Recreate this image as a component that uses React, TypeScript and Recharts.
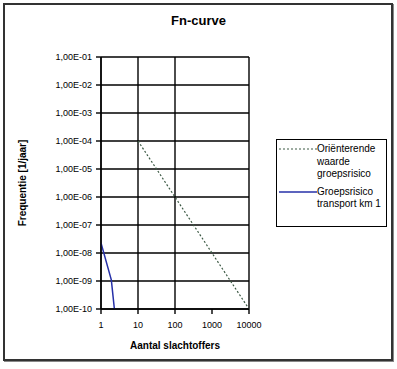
import React from "react";
import { LineChart, Line, XAxis, YAxis, CartesianGrid } from "recharts";

// Fn-curve: log-log plot, guide value vs. group risk for transport km 1.
const N_TICKS = [1, 10, 100, 1000, 10000];
const F_TICKS = [1e-10, 1e-9, 1e-8, 1e-7, 1e-6, 1e-5, 1e-4, 1e-3, 1e-2, 1e-1];

const GUIDE_N = [10, 100, 1000, 10000];
const GUIDE_F = [1e-4, 1e-6, 1e-8, 1e-10];

const RISK_N = [1, 1.9, 2.3];
const RISK_F = [2.3e-8, 1.1e-9, 1e-10];

const GUIDE_LABEL = ["Oriënterende", "waarde", "groepsrisico"];
const RISK_LABEL = ["Groepsrisico", "transport km 1"];

const guideData = GUIDE_N.map((n, i) => ({ n, f: GUIDE_F[i] }));
const riskData = RISK_N.map((n, i) => ({ n, f: RISK_F[i] }));

const FONT = "'Liberation Sans', Arial, sans-serif";
const GUIDE_COLOR = "#3d5a45";
const RISK_COLOR = "#2630a8";

const fmtF = (v: number) =>
  "1,00E-" + String(-Math.round(Math.log10(v))).padStart(2, "0");

function LegendItem({ lines, color, dashed }: { lines: string[]; color: string; dashed?: boolean }) {
  return (
    <div style={{ display: "flex", marginBottom: 5 }}>
      <svg width={38} height={12} style={{ flex: "none" }}>
        <line
          x1={0}
          y1={6}
          x2={38}
          y2={6}
          stroke={color}
          strokeWidth={dashed ? 1.2 : 1.5}
          strokeDasharray={dashed ? "2 2" : undefined}
        />
      </svg>
      <div style={{ lineHeight: "12.5px" }}>
        {lines.map((t) => (
          <div key={t}>{t}</div>
        ))}
      </div>
    </div>
  );
}

export default function App() {
  return (
    <div
      style={{
        position: "fixed",
        left: 0,
        top: 0,
        width: 397,
        height: 369,
        background: "#fff",
        fontFamily: FONT,
      }}
    >
      <div
        style={{
          position: "absolute",
          left: 3,
          top: 3,
          width: 386,
          height: 354,
          border: "2px solid #333",
          boxShadow: "1px 1px 0 #888",
        }}
      />
      <div
        style={{
          position: "absolute",
          left: 0,
          width: 397,
          top: 13,
          textAlign: "center",
          fontSize: 13,
          fontWeight: "bold",
        }}
      >
        Fn-curve
      </div>
      <LineChart
        width={397}
        height={369}
        margin={{ top: 57, right: 148, bottom: 0, left: 0 }}
        style={{ position: "absolute", left: 0, top: 0 }}
      >
        <CartesianGrid stroke="#000" strokeWidth={1.4} />
        <XAxis
          dataKey="n"
          type="number"
          scale="log"
          domain={[1, 10000]}
          ticks={N_TICKS}
          allowDataOverflow
          height={60}
          tickSize={5}
          tickMargin={8}
          stroke="#000"
          strokeWidth={1.4}
          tick={{ fill: "#000", fontSize: 9, fontFamily: FONT }}
          label={{
            value: "Aantal slachtoffers",
            position: "insideBottom",
            offset: 20,
            fill: "#000",
            fontSize: 10,
            fontWeight: "bold",
            fontFamily: FONT,
          }}
        />
        <YAxis
          dataKey="f"
          type="number"
          scale="log"
          domain={[1e-10, 1e-1]}
          ticks={F_TICKS}
          allowDataOverflow
          width={101}
          tickSize={5}
          tickMargin={4}
          stroke="#000"
          strokeWidth={1.4}
          tickFormatter={fmtF}
          tick={{ fill: "#000", fontSize: 9, fontFamily: FONT }}
          label={{
            content: ({ viewBox }: any) => {
              const cx = 22;
              const cy = viewBox.y + viewBox.height / 2;
              return (
                <text
                  x={cx}
                  y={cy}
                  transform={`rotate(-90 ${cx} ${cy})`}
                  textAnchor="middle"
                  dominantBaseline="central"
                  fontSize={10}
                  fontWeight="bold"
                  fontFamily={FONT}
                  fill="#000"
                >
                  Frequentie [1/jaar]
                </text>
              );
            },
          }}
        />
        <Line
          data={guideData}
          dataKey="f"
          name="guide"
          stroke={GUIDE_COLOR}
          strokeWidth={1.2}
          strokeDasharray="2 2"
          dot={false}
          isAnimationActive={false}
        />
        <Line
          data={riskData}
          dataKey="f"
          name="risk"
          stroke={RISK_COLOR}
          strokeWidth={1.5}
          dot={false}
          isAnimationActive={false}
        />
      </LineChart>
      <div
        style={{
          position: "absolute",
          left: 276,
          top: 139,
          width: 111,
          height: 88,
          border: "1px solid #000",
          boxSizing: "border-box",
          padding: "3px 0 0 2px",
          fontSize: 10,
          color: "#000",
          background: "#fff",
        }}
      >
        <LegendItem lines={GUIDE_LABEL} color={GUIDE_COLOR} dashed />
        <LegendItem lines={RISK_LABEL} color={RISK_COLOR} />
      </div>
    </div>
  );
}
